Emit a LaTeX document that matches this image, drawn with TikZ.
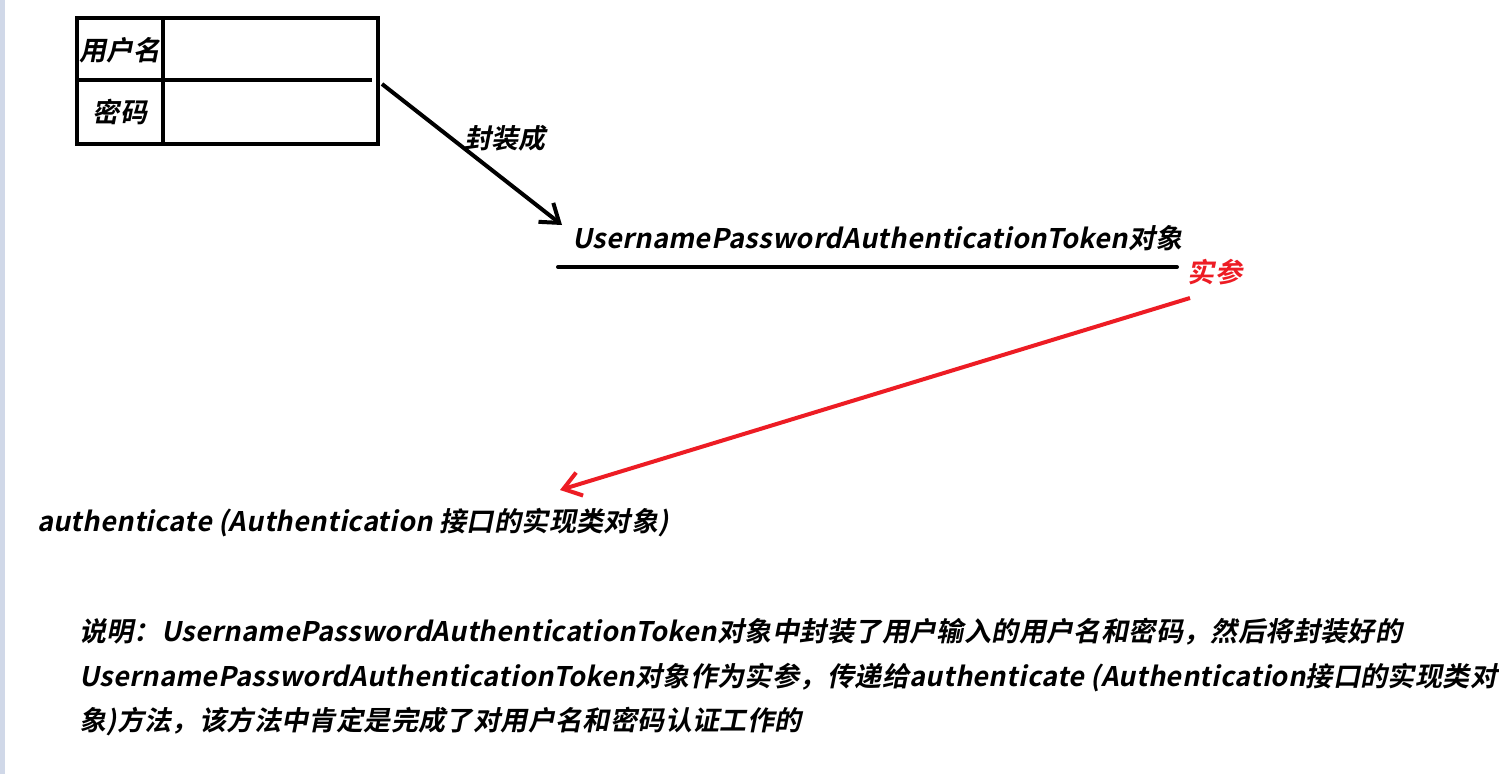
\documentclass[tikz,border=0pt]{standalone}
\usepackage{fontspec}
\setmainfont{Noto Sans CJK SC}[BoldFont={Noto Sans CJK SC Bold},FakeSlant=0.2,LetterSpace=1.5]
\usetikzlibrary{arrows.meta}
\definecolor{inkred}{RGB}{237,28,36}
\definecolor{sidebar}{RGB}{208,216,232}
\begin{document}
\begin{tikzpicture}[x=1pt, y=-1pt, line width=4pt,
  label text/.style={font=\fontsize{27}{31}\selectfont\bfseries, inner sep=0pt},
  note line/.style={label text, anchor=west},
  barb/.style={-{Straight Barb[length=17pt,width=24pt]}}]
\useasboundingbox[fill=white] (0,0) rectangle (1499,774);
\fill[sidebar] (0,0) rectangle (5,774);
%table of the two inputs
\draw (77,18) rectangle (378,144);
\draw (163,18) -- (163,144);
\draw (77,80) -- (372,80);
\begin{scope}[every node/.style={label text}]
\node (user) at (120,50) {用户名};
\node (pwd) at (120,112) {密码};
\node (wrap) at (505,138) {封装成};
\node[anchor=west] (token) at (570,238) {UsernamePasswordAuthenticationToken对象};
\node[text=inkred] (arg) at (1215,272) {实参};
\node[anchor=west] (auth) at (35,523) {authenticate (Authentication 接口的实现类对象)};
\end{scope}
\coordinate (tblout) at (382,84);
\coordinate (tokenin) at (562,225);
\coordinate (ulstart) at (558,267);
\coordinate (ulend) at (1177,267);
\coordinate (argout) at (1190,298);
\coordinate (authin) at (560,490);
\begin{scope}
\draw[barb] (tblout) -- (tokenin);
\draw[line cap=round] (ulstart) -- (ulend);
\draw[barb, inkred] (argout) -- (authin);
\end{scope}
%explanation
\node[note line] (note1) at (77,632) {说明：UsernamePasswordAuthenticationToken对象中封装了用户输入的用户名和密码，然后将封装好的};
\node[note line] (note2) at (77,678) {UsernamePasswordAuthenticationToken对象作为实参，传递给authenticate (Authentication接口的实现类对};
\node[note line] (note3) at (77,722) {象)方法，该方法中肯定是完成了对用户名和密码认证工作的};
\end{tikzpicture}
\end{document}
